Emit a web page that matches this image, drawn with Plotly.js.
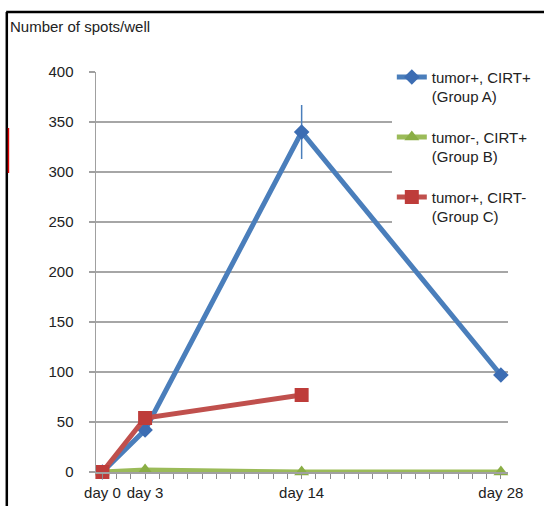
<!DOCTYPE html>
<html>
<head>
<meta charset="utf-8">
<script src="https://cdn.plot.ly/plotly-3.0.1.min.js"></script>
<style>html,body{margin:0;padding:0;background:#fff;}#chart{width:544px;height:506px;}</style>
</head>
<body>
<div id="chart"></div>
<script>
// Data
const days = [0, 3, 14, 28];
const dayLabels = ["day 0", "day 3", "day 14", "day 28"];
const groupA = [0, 42, 340, 97];
const groupAErr = [0, 0, 27, 0];
const groupB = [0, 2, 0, 0];
const groupCDays = [0, 3, 14];
const groupC = [0, 54, 77];
const seriesNames = ["tumor+, CIRT+<br>(Group A)", "tumor-, CIRT+<br>(Group B)", "tumor+, CIRT-<br>(Group C)"];
const yTicks = [0, 50, 100, 150, 200, 250, 300, 350, 400];

const font = "Liberation Sans, Arial, sans-serif";

const traces = [
  {
    x: days, y: groupA, name: seriesNames[0], mode: "lines+markers", legendgroup: "a",
    line: {color: "#4A7EBB", width: 5},
    marker: {symbol: "diamond", size: 12, color: "#3C6DB3"},
    error_y: {type: "data", array: groupAErr, visible: true, color: "#4A7EBB", thickness: 1.5, width: 0},
    cliponaxis: false
  },
  {
    x: days, y: groupB, name: seriesNames[1], mode: "lines+markers", legendgroup: "b",
    line: {color: "#9BBB59", width: 5},
    marker: {symbol: "triangle-up", size: 13, color: "#8AAE45"},
    cliponaxis: false
  },
  {
    x: groupCDays, y: groupC, name: seriesNames[2], mode: "lines+markers", legendgroup: "c",
    line: {color: "#C0504D", width: 5},
    marker: {symbol: "square", size: 14, color: "#BE3C3A"},
    cliponaxis: false
  }
];

// x tick values: every day, labels only on sampled days
const allTicks = [];
const allText = [];
for (let d = 0; d <= days[days.length - 1]; d++) {
  allTicks.push(d);
  const i = days.indexOf(d);
  allText.push(i >= 0 ? dayLabels[i] : "");
}

const layout = {
  width: 544, height: 506,
  margin: {l: 96, r: 36, t: 72, b: 34, autoexpand: false},
  paper_bgcolor: "#ffffff", plot_bgcolor: "#ffffff",
  font: {family: font, size: 15, color: "#222"},
  showlegend: true,
  legend: {
    x: 0.718, xanchor: "left", y: 1.028, yanchor: "top",
    bgcolor: "#ffffff", borderwidth: 0,
    font: {family: font, size: 15, color: "#222"},
    traceorder: "grouped", tracegroupgap: 18, valign: "top",
    itemwidth: 30
  },
  xaxis: {
    range: [-0.45, 28.5],
    tickmode: "array", tickvals: allTicks, ticktext: allText,
    ticks: "outside", ticklen: 5, tickcolor: "#8c8c8c", tickwidth: 1,
    showgrid: false, zeroline: false,
    showline: true, linecolor: "#a0a0a0", linewidth: 1.5,
    tickfont: {family: font, size: 15, color: "#222"},
    ticklabelstandoff: 1
  },
  yaxis: {
    range: [0, 400],
    tickmode: "array", tickvals: yTicks,
    ticks: "outside", ticklen: 6, tickcolor: "#a0a0a0", tickwidth: 1.5,
    showgrid: true, gridcolor: "#a6a6a6", gridwidth: 1.5,
    zeroline: false,
    showline: true, linecolor: "#a0a0a0", linewidth: 1.5,
    tickfont: {family: font, size: 15, color: "#222"},
    ticklabelstandoff: 12
  },
  annotations: [
    {xref: "paper", yref: "paper", x: -0.2125, y: 1.115, xanchor: "left", yanchor: "middle",
     text: "Number of spots/well", showarrow: false, font: {family: font, size: 15, color: "#222"}}
  ],
  shapes: [
    {type: "line", xref: "paper", yref: "paper", x0: -0.218, x1: 1.1, y0: 1.15, y1: 1.15, line: {color: "#000", width: 2.5}},
    {type: "line", xref: "paper", yref: "paper", x0: -0.2165, x1: -0.2165, y0: 1.15, y1: -0.1, line: {color: "#000", width: 2.5}},
    {type: "line", xref: "paper", yref: "paper", x0: -0.2125, x1: -0.2125, y0: 0.86, y1: 0.7475, line: {color: "#e00000", width: 1.5}}
  ]
};

Plotly.newPlot("chart", traces, layout, {displayModeBar: false, staticPlot: true});
</script>
</body>
</html>
